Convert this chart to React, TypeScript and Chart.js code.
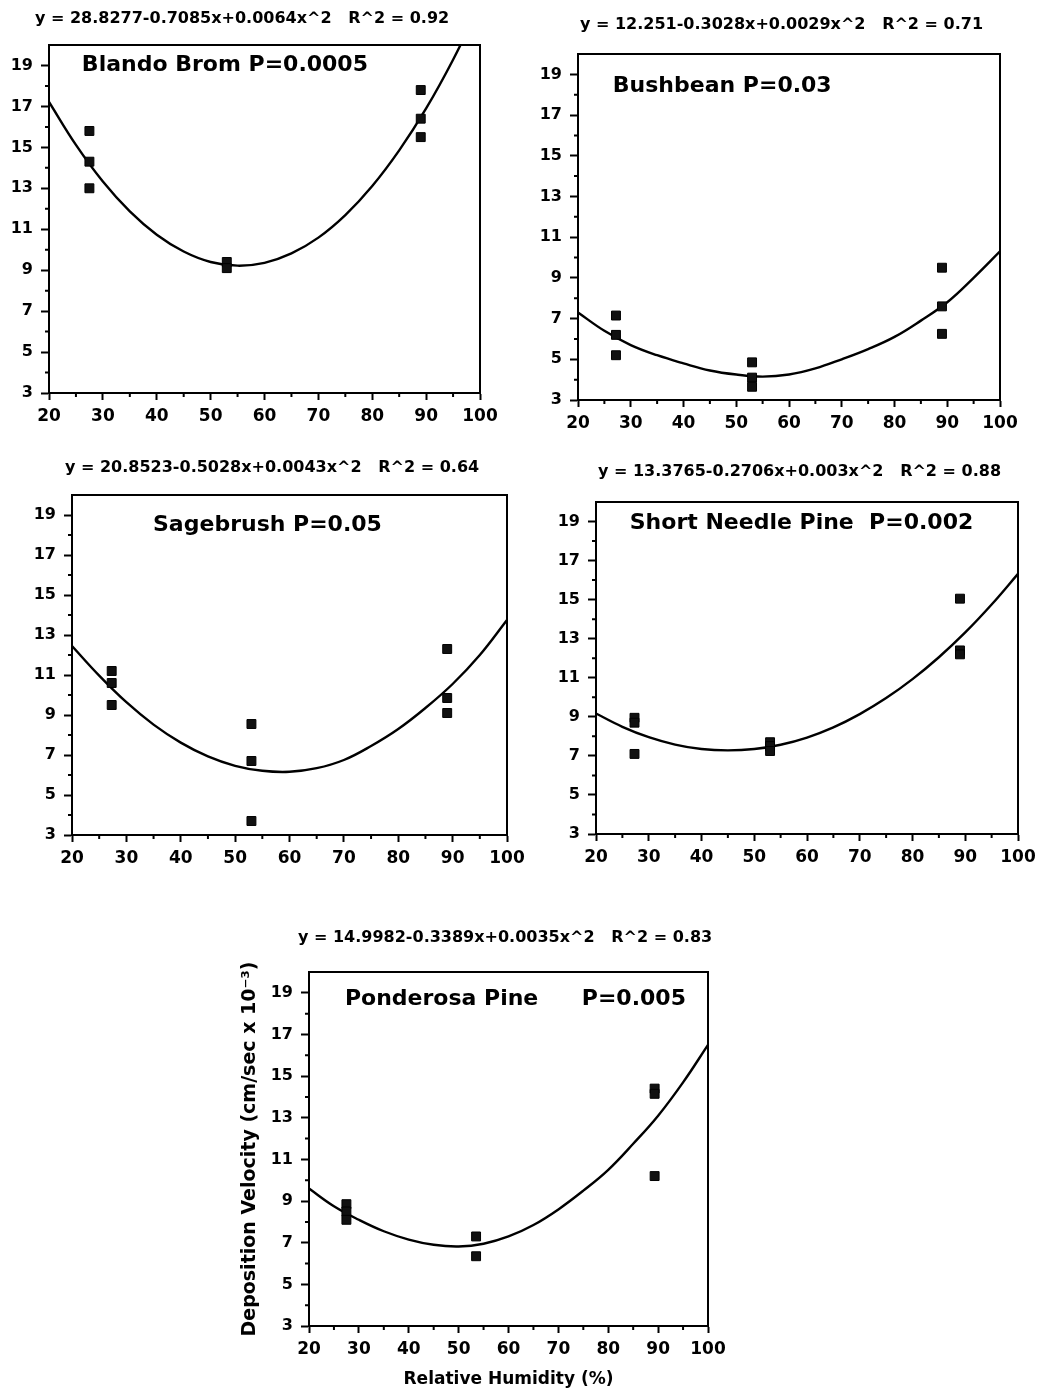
import React, { useEffect, useRef } from "react";
import { Chart, registerables } from "chart.js";

Chart.register(...registerables);

// ---------------- data ----------------
const curveX = [20, 25, 30, 35, 40, 45, 50, 55, 60, 65, 70, 75, 80, 85, 90, 95, 100];
const xMajorTicks = [20, 30, 40, 50, 60, 70, 80, 90, 100];
const xMinorTicks = [25, 35, 45, 55, 65, 75, 85, 95];
const yMajorTicks = [3, 5, 7, 9, 11, 13, 15, 17, 19];
const yMinorTicks = [4, 6, 8, 10, 12, 14, 16, 18];

const blandoEquation = "y = 28.8277-0.7085x+0.0064x^2   R^2 = 0.92";
const blandoLabels = ["Blando Brom P=0.0005"];
const blandoPointX = [27.5, 27.5, 27.5, 53, 53, 89, 89, 89];
const blandoPointY = [15.8, 14.3, 13.0, 9.4, 9.1, 17.8, 16.4, 15.5];
const blandoCurveY = [17.22, 15.12, 13.33, 11.87, 10.73, 9.91, 9.4, 9.22, 9.36, 9.82, 10.59, 11.69, 13.11, 14.85, 16.9, 19.28, 21.98];

const bushbeanEquation = "y = 12.251-0.3028x+0.0029x^2   R^2 = 0.71";
const bushbeanLabels = ["Bushbean P=0.03"];
const bushbeanPointX = [27.2, 27.2, 27.2, 53, 53, 53, 89, 89, 89];
const bushbeanPointY = [7.15, 6.2, 5.2, 4.85, 4.1, 3.65, 9.5, 7.6, 6.25];
const bushbeanCurveY = [7.3, 6.4, 5.7, 5.2, 4.8, 4.45, 4.25, 4.15, 4.25, 4.55, 5.0, 5.5, 6.1, 6.9, 7.8, 9.0, 10.3];

const sagebrushEquation = "y = 20.8523-0.5028x+0.0043x^2   R^2 = 0.64";
const sagebrushLabels = ["Sagebrush P=0.05"];
const sagebrushPointX = [27.3, 27.3, 27.3, 53, 53, 53, 89, 89, 89];
const sagebrushPointY = [11.2, 10.6, 9.5, 8.55, 6.7, 3.7, 12.3, 9.85, 9.1];
const sagebrushCurveY = [12.45, 10.97, 9.64, 8.52, 7.62, 6.93, 6.46, 6.21, 6.16, 6.34, 6.75, 7.45, 8.3, 9.35, 10.55, 12.0, 13.75];

const needleEquation = "y = 13.3765-0.2706x+0.003x^2   R^2 = 0.88";
const needleLabels = ["Short Needle Pine  P=0.002"];
const needlePointX = [27.3, 27.3, 27.3, 53, 53, 53, 89, 89, 89];
const needlePointY = [8.95, 8.7, 7.1, 7.7, 7.5, 7.25, 15.05, 12.4, 12.2];
const needleCurveY = [9.17, 8.49, 7.96, 7.58, 7.35, 7.28, 7.35, 7.57, 7.94, 8.46, 9.14, 9.96, 10.93, 12.05, 13.32, 14.75, 16.32];

const ponderosaEquation = "y = 14.9982-0.3389x+0.0035x^2   R^2 = 0.83";
const ponderosaLabels = ["Ponderosa Pine", "P=0.005"];
const ponderosaPointX = [27.5, 27.5, 27.5, 53.5, 53.5, 89.3, 89.3, 89.3];
const ponderosaPointY = [8.85, 8.5, 8.1, 7.3, 6.35, 14.4, 14.15, 10.2];
const ponderosaCurveY = [9.6, 8.75, 8.1, 7.55, 7.15, 6.9, 6.82, 6.95, 7.3, 7.85, 8.6, 9.5, 10.5, 11.75, 13.1, 14.7, 16.5];

const yAxisTitle = "Deposition Velocity (cm/sec x 10\u207B\u00B3)";
const xAxisTitle = "Relative Humidity (%)";

// ---------------- layout ----------------
const FONT = "'DejaVu Sans', sans-serif";

type Layout = {
  L: number; R: number; T: number; B: number;
  leftSpace: number; yW: number; xH: number; padB: number;
  eqDx: number; eqDy: number;
  labelPos: { x: number; y: number }[];
  titles: boolean;
};

const panels: { equation: string; labels: string[]; px: number[]; py: number[]; cy: number[]; layout: Layout }[] = [
  {
    equation: blandoEquation, labels: blandoLabels, px: blandoPointX, py: blandoPointY, cy: blandoCurveY,
    layout: { L: 49, R: 480, T: 45, B: 393, leftSpace: 46, yW: 44, xH: 42, padB: 4, eqDx: -14, eqDy: 26, labelPos: [{ x: 26.1, y: 19 }], titles: false },
  },
  {
    equation: bushbeanEquation, labels: bushbeanLabels, px: bushbeanPointX, py: bushbeanPointY, cy: bushbeanCurveY,
    layout: { L: 578, R: 1000, T: 54, B: 400, leftSpace: 46, yW: 44, xH: 42, padB: 4, eqDx: 2, eqDy: 29, labelPos: [{ x: 26.6, y: 18.4 }], titles: false },
  },
  {
    equation: sagebrushEquation, labels: sagebrushLabels, px: sagebrushPointX, py: sagebrushPointY, cy: sagebrushCurveY,
    layout: { L: 72, R: 507, T: 495, B: 835, leftSpace: 46, yW: 44, xH: 42, padB: 4, eqDx: -7, eqDy: 27, labelPos: [{ x: 34.9, y: 18.5 }], titles: false },
  },
  {
    equation: needleEquation, labels: needleLabels, px: needlePointX, py: needlePointY, cy: needleCurveY,
    layout: { L: 596, R: 1018, T: 502, B: 834, leftSpace: 46, yW: 44, xH: 42, padB: 4, eqDx: 2, eqDy: 30, labelPos: [{ x: 26.4, y: 18.9 }], titles: false },
  },
  {
    equation: ponderosaEquation, labels: ponderosaLabels, px: ponderosaPointX, py: ponderosaPointY, cy: ponderosaCurveY,
    layout: { L: 309, R: 708, T: 972, B: 1326, leftSpace: 80, yW: 70, xH: 70, padB: 6, eqDx: -11, eqDy: 34, labelPos: [{ x: 27.2, y: 18.7 }, { x: 74.7, y: 18.7 }], titles: true },
  },
];

const TOP_SPACE = 44;
const RIGHT_SPACE = 30;

const decorPlugin = {
  id: "panelDecor",
  afterDraw(chart: any, _args: any, opts: any) {
    const { ctx, chartArea: a, scales } = chart;
    const xs = scales.x, ys = scales.y;
    ctx.save();
    ctx.strokeStyle = "#000";
    ctx.lineWidth = 2;
    ctx.strokeRect(a.left, a.top, a.right - a.left, a.bottom - a.top);
    ctx.beginPath();
    for (const v of xMinorTicks) {
      const p = xs.getPixelForValue(v);
      ctx.moveTo(p, a.bottom);
      ctx.lineTo(p, a.bottom + 4);
    }
    for (const v of yMinorTicks) {
      const p = ys.getPixelForValue(v);
      ctx.moveTo(a.left, p);
      ctx.lineTo(a.left - 4, p);
    }
    ctx.stroke();
    ctx.fillStyle = "#000";
    ctx.textAlign = "left";
    ctx.textBaseline = "middle";
    ctx.font = `bold 16px ${FONT}`;
    ctx.fillText(opts.equation, a.left + opts.eqDx, a.top - opts.eqDy);
    ctx.font = `bold 22px ${FONT}`;
    opts.labels.forEach((t: string, i: number) => {
      const pos = opts.labelPos[i];
      ctx.fillText(t, xs.getPixelForValue(pos.x), ys.getPixelForValue(pos.y));
    });
    ctx.restore();
  },
};

function Panel({ spec }: { spec: (typeof panels)[number] }) {
  const ref = useRef<HTMLCanvasElement>(null);
  const lay = spec.layout;
  const width = lay.R - lay.L + lay.leftSpace + RIGHT_SPACE;
  const height = lay.B - lay.T + TOP_SPACE + lay.xH + lay.padB;
  const left = lay.L - lay.leftSpace;
  const top = lay.T - TOP_SPACE;

  useEffect(() => {
    const points = spec.px.map((x, i) => ({ x, y: spec.py[i] }));
    const curve = curveX.map((x, i) => ({ x, y: spec.cy[i] }));
    const chart = new Chart(ref.current as HTMLCanvasElement, {
      type: "scatter",
      data: {
        datasets: [
          {
            data: curve,
            showLine: true,
            borderColor: "#000",
            borderWidth: 2.4,
            pointRadius: 0,
            tension: 0.4,
            capBezierPoints: false,
            order: 2,
          } as any,
          {
            data: points,
            pointStyle: "rect",
            pointRadius: 6.3,
            backgroundColor: "#111",
            borderColor: "#000",
            borderWidth: 1,
            order: 1,
          } as any,
        ],
      },
      options: {
        responsive: false,
        animation: false,
        events: [],
        layout: { padding: { left: lay.leftSpace - lay.yW, top: TOP_SPACE, right: RIGHT_SPACE, bottom: lay.padB } },
        plugins: {
          legend: { display: false },
          tooltip: { enabled: false },
          panelDecor: {
            equation: spec.equation,
            labels: spec.labels,
            labelPos: lay.labelPos,
            eqDx: lay.eqDx,
            eqDy: lay.eqDy,
          },
        } as any,
        scales: {
          x: {
            type: "linear",
            min: 20,
            max: 100,
            afterBuildTicks: (s: any) => { s.ticks = xMajorTicks.map((v) => ({ value: v })); },
            afterFit: (s: any) => { s.height = lay.xH; },
            grid: { display: true, drawOnChartArea: false, drawTicks: true, tickLength: 7, tickWidth: 2, color: "#000" },
            border: { display: true, color: "#000", width: 2 },
            ticks: { color: "#000", padding: 6, maxRotation: 0, autoSkip: false, font: { family: FONT, weight: "bold", size: 17 } },
            title: {
              display: lay.titles,
              text: xAxisTitle,
              color: "#000",
              padding: { top: 0, bottom: 6 },
              font: { family: FONT, weight: "bold", size: 17 },
            },
          },
          y: {
            type: "linear",
            min: 3,
            max: 20,
            afterBuildTicks: (s: any) => { s.ticks = yMajorTicks.map((v) => ({ value: v })); },
            afterFit: (s: any) => { s.width = lay.yW; },
            grid: { display: true, drawOnChartArea: false, drawTicks: true, tickLength: 8, tickWidth: 2, color: "#000" },
            border: { display: true, color: "#000", width: 2 },
            ticks: { color: "#000", padding: 8, autoSkip: false, font: { family: FONT, weight: "bold", size: 16 } },
            title: {
              display: lay.titles,
              text: yAxisTitle,
              color: "#000",
              padding: { top: 0, bottom: 0 },
              font: { family: FONT, weight: "bold", size: 19 },
            },
          },
        },
      },
      plugins: [decorPlugin as any],
    });
    return () => chart.destroy();
  }, []);

  return (
    <canvas
      ref={ref}
      width={width}
      height={height}
      style={{ position: "absolute", left, top, width, height }}
    />
  );
}

export default function App() {
  return (
    <div style={{ position: "absolute", left: 0, top: 0, width: 1056, height: 1400, background: "#fff", overflow: "hidden" }}>
      {panels.map((p, i) => (
        <Panel key={i} spec={p} />
      ))}
    </div>
  );
}
